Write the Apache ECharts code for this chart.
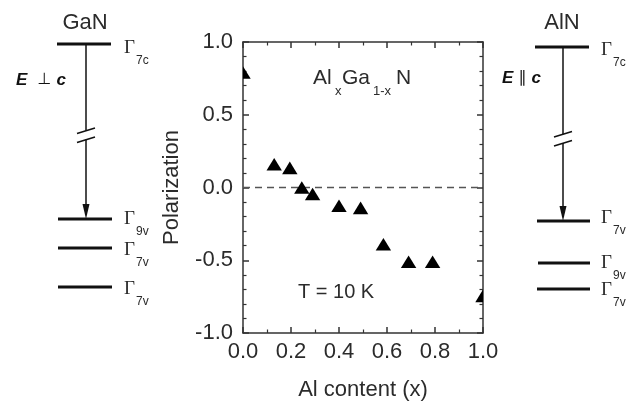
<!DOCTYPE html>
<html>
<head>
<meta charset="utf-8">
<script src="https://cdn.jsdelivr.net/npm/echarts@6/dist/echarts.min.js"></script>
<style>
  html, body { margin: 0; padding: 0; background: #fff; }
  #main { width: 637px; height: 406px; }
</style>
</head>
<body>
<div id="main"></div>
<script>
// Al content (x) and measured polarization at T = 10 K
const alContent = [0.0, 0.13, 0.195, 0.245, 0.29, 0.40, 0.49, 0.585, 0.69, 0.79, 1.0];
const polarization = [0.79, 0.16, 0.135, 0.0, -0.045, -0.125, -0.14, -0.39, -0.51, -0.51, -0.745];
const zeroLine = [[0, 0], [1, 0]];

const FONT = 'Liberation Sans, Arial, sans-serif';
const TXT = '#2b2b2b';

function fmt(v) { return v.toFixed(1); }

// band diagram helpers (annotations left and right of the plot)
function level(x1, x2, y) {
    return { type: 'line', shape: { x1: x1, y1: y, x2: x2, y2: y }, style: { stroke: '#111', lineWidth: 3 } };
}
function seg(x1, y1, x2, y2) {
    return { type: 'line', shape: { x1: x1, y1: y1, x2: x2, y2: y2 }, style: { stroke: '#111', lineWidth: 1.5 } };
}
function gamma(x, y, sub) {
    return [
        { type: 'text', style: { x: x, y: y, text: 'Γ', font: '19px Liberation Serif, serif', fill: TXT, verticalAlign: 'middle' } },
        { type: 'text', style: { x: x + 12, y: y + 13, text: sub, font: '12px ' + FONT, fill: TXT, verticalAlign: 'middle' } }
    ];
}
function transition(x, yTop, yBreak, yTip) {
    // vertical arrow with a break mark
    return [
        seg(x, yTop, x, yBreak - 4.5),
        seg(x, yBreak + 4.5, x, yTip - 12),
        seg(x - 9, yBreak - 1.5, x + 9, yBreak - 7),
        seg(x - 9, yBreak + 7.5, x + 9, yBreak + 2),
        { type: 'polygon', shape: { points: [[x - 3.5, yTip - 15], [x + 3.5, yTip - 15], [x, yTip]] }, style: { fill: '#111' } }
    ];
}

let graphics = [];
// GaN
graphics.push({ type: 'text', style: { x: 85, y: 23, text: 'GaN', font: '22px ' + FONT, fill: TXT, align: 'center', verticalAlign: 'middle' } });
graphics.push({ type: 'text', style: { x: 16, y: 80, text: '{b|E}{n|  ⊥ }{b|c}', verticalAlign: 'middle',
    rich: { b: { font: 'italic bold 17px ' + FONT, fill: '#111' }, n: { font: '16px DejaVu Sans, sans-serif', fill: '#111' } } } });
graphics.push(level(57, 111, 44), level(58, 112, 219), level(58, 112, 248), level(58, 112, 287));
graphics = graphics.concat(transition(86, 44, 135, 219));
graphics = graphics.concat(gamma(124, 48, '7c'), gamma(124, 219, '9v'), gamma(124, 250, '7v'), gamma(124, 289, '7v'));
// AlN
graphics.push({ type: 'text', style: { x: 562, y: 23, text: 'AlN', font: '22px ' + FONT, fill: TXT, align: 'center', verticalAlign: 'middle' } });
graphics.push({ type: 'text', style: { x: 502, y: 78, text: '{b|E}{n| ∥ }{b|c}', verticalAlign: 'middle',
    rich: { b: { font: 'italic bold 17px ' + FONT, fill: '#111' }, n: { font: '16px DejaVu Sans, sans-serif', fill: '#111' } } } });
graphics.push(level(535, 589, 47), level(537, 590, 221), level(538, 590, 263), level(537, 590, 289));
graphics = graphics.concat(transition(563, 47, 138.5, 221));
graphics = graphics.concat(gamma(601, 50, '7c'), gamma(601, 218, '7v'), gamma(601, 263, '9v'), gamma(601, 290, '7v'));
// labels inside the plot
graphics.push({ type: 'text', style: { x: 313, y: 78, text: 'Al', font: '21px ' + FONT, fill: TXT, verticalAlign: 'middle' } });
graphics.push({ type: 'text', style: { x: 335, y: 91, text: 'x', font: '13px ' + FONT, fill: TXT, verticalAlign: 'middle' } });
graphics.push({ type: 'text', style: { x: 342, y: 78, text: 'Ga', font: '21px ' + FONT, fill: TXT, verticalAlign: 'middle' } });
graphics.push({ type: 'text', style: { x: 373, y: 91, text: '1-x', font: '13px ' + FONT, fill: TXT, verticalAlign: 'middle' } });
graphics.push({ type: 'text', style: { x: 396, y: 78, text: 'N', font: '21px ' + FONT, fill: TXT, verticalAlign: 'middle' } });
graphics.push({ type: 'text', style: { x: 298, y: 292, text: 'T = 10 K', font: '20px ' + FONT, fill: TXT, verticalAlign: 'middle' } });

function baseAxis(extra) {
    return Object.assign({
        type: 'value',
        axisLine: { show: true, onZero: false, lineStyle: { color: '#333', width: 1.5 } },
        axisTick: { show: true, inside: true, length: 6, lineStyle: { color: '#333', width: 1.5 } },
        minorTick: { show: true, length: 3.5, lineStyle: { color: '#333', width: 1.2 } },
        splitLine: { show: false },
        minorSplitLine: { show: false }
    }, extra);
}

const option = {
    animation: false,
    backgroundColor: '#fff',
    grid: { left: 243, right: 154, top: 42, bottom: 71 },
    xAxis: [
        baseAxis({ min: 0, max: 1, interval: 0.2, position: 'bottom', minorTick: { show: true, splitNumber: 2, length: 3.5, lineStyle: { color: '#333', width: 1.2 } },
            axisLabel: { fontSize: 22, fontFamily: FONT, color: TXT, margin: 8, formatter: fmt },
            name: 'Al content (x)', nameLocation: 'middle', nameGap: 46,
            nameTextStyle: { fontSize: 22, fontFamily: FONT, color: TXT } }),
        baseAxis({ min: 0, max: 1, interval: 0.2, position: 'top', minorTick: { show: true, splitNumber: 2, length: 3.5, lineStyle: { color: '#333', width: 1.2 } },
            axisLabel: { show: false } })
    ],
    yAxis: [
        baseAxis({ min: -1, max: 1, interval: 0.5, position: 'left', minorTick: { show: true, splitNumber: 5, length: 3.5, lineStyle: { color: '#333', width: 1.2 } },
            axisLabel: { fontSize: 22, fontFamily: FONT, color: TXT, margin: 10, formatter: fmt },
            name: 'Polarization', nameLocation: 'middle', nameGap: 60,
            nameTextStyle: { fontSize: 22, fontFamily: FONT, color: TXT } }),
        baseAxis({ min: -1, max: 1, interval: 0.5, position: 'right', minorTick: { show: true, splitNumber: 5, length: 3.5, lineStyle: { color: '#333', width: 1.2 } },
            axisLabel: { show: false } })
    ],
    graphic: { elements: graphics },
    series: [
        {
            type: 'line',
            data: zeroLine,
            symbol: 'none',
            silent: true,
            lineStyle: { color: '#555', width: 1.5, type: [7, 5] },
            z: 1
        },
        {
            type: 'custom',
            clip: true,
            data: alContent.map((x, i) => [x, polarization[i]]),
            renderItem: function (params, api) {
                const p = api.coord([api.value(0), api.value(1)]);
                return {
                    type: 'polygon',
                    shape: { points: [[p[0], p[1] - 6.3], [p[0] - 7.7, p[1] + 6.3], [p[0] + 7.7, p[1] + 6.3]] },
                    style: { fill: '#000' }
                };
            },
            z: 3
        }
    ]
};

const chart = echarts.init(document.getElementById('main'), null, { renderer: 'canvas' });
chart.setOption(option);
</script>
</body>
</html>
